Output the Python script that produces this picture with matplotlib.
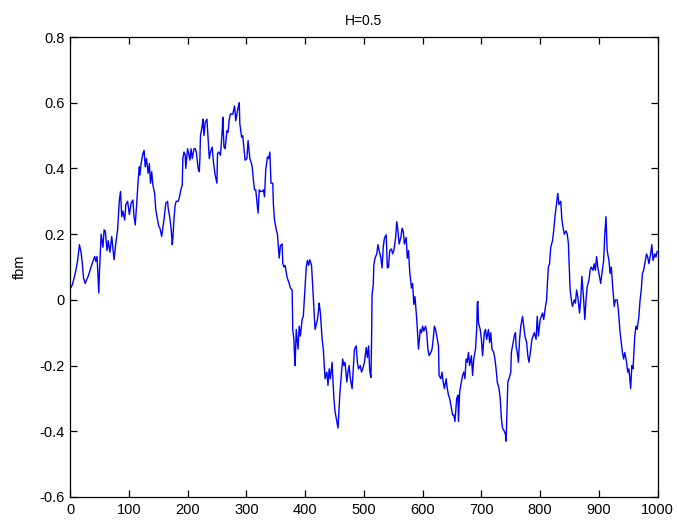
"""Fractional Brownian motion sample path, H=0.5 (MATLAB-style figure)."""

import matplotlib
matplotlib.use("Agg")
import matplotlib.pyplot as plt

LINE_COLOR = "#0000FF"
TITLE = "H=0.5"
Y_LABEL = "fbm"

# sample index / fbm value
samples = [
    1, 4, 7, 10, 13, 16, 19, 21, 23, 26, 28, 31, 34, 37, 40, 42, 44, 46, 49, 50,
    52, 53, 56, 58, 60, 63, 65, 68, 71, 75, 78, 81, 84, 86, 88, 90, 93, 95, 98, 101,
    104, 107, 109, 111, 113, 116, 118, 119, 121, 124, 126, 128, 130, 133, 135, 137, 139, 141, 144, 146,
    149, 151, 153, 156, 158, 160, 163, 166, 167, 170, 172, 174, 175, 177, 179, 181, 184, 186, 188, 191,
    192, 194, 196, 197, 200, 202, 204, 206, 208, 211, 213, 215, 218, 220, 221, 222, 225, 226, 228, 230,
    233, 235, 237, 239, 242, 244, 247, 250, 251, 253, 256, 259, 260, 262, 264, 267, 269, 271, 273, 277,
    280, 282, 286, 288, 289, 292, 294, 296, 298, 301, 303, 306, 308, 310, 312, 314, 316, 319, 320, 322,
    324, 327, 329, 331, 333, 336, 338, 340, 342, 345, 346, 348, 351, 353, 355, 356, 358, 361, 362, 364,
    366, 369, 371, 373, 375, 378, 379, 381, 382, 383, 385, 388, 390, 392, 395, 397, 399, 402, 404, 406,
    408, 411, 413, 415, 417, 421, 423, 424, 426, 429, 431, 432, 434, 437, 439, 441, 443, 446, 447, 449,
    451, 454, 456, 457, 459, 462, 464, 466, 468, 471, 473, 475, 477, 480, 482, 484, 487, 489, 491, 494,
    496, 498, 501, 504, 506, 508, 510, 512, 513, 514, 515, 516, 517, 519, 522, 524, 526, 529, 531, 533,
    535, 538, 540, 542, 544, 547, 549, 551, 554, 556, 558, 560, 563, 565, 567, 569, 572, 574, 576, 578,
    581, 583, 585, 587, 590, 592, 593, 596, 598, 600, 602, 605, 607, 609, 611, 614, 616, 618, 620, 622,
    624, 627, 628, 631, 633, 635, 637, 640, 642, 644, 646, 649, 651, 653, 655, 658, 660, 661, 663, 665,
    668, 670, 672, 674, 676, 678, 680, 683, 685, 687, 690, 692, 693, 694, 695, 698, 700, 702, 705, 707,
    709, 712, 714, 716, 718, 721, 723, 725, 727, 730, 732, 734, 736, 739, 741, 742, 744, 745, 747, 750,
    751, 753, 756, 758, 759, 761, 763, 765, 767, 770, 772, 774, 777, 779, 781, 784, 786, 788, 790, 793,
    795, 797, 800, 802, 804, 806, 809, 811, 812, 814, 816, 818, 821, 823, 825, 828, 830, 832, 835, 837,
    839, 841, 844, 846, 848, 849, 851, 853, 855, 858, 860, 862, 864, 867, 869, 871, 874, 876, 878, 880,
    883, 885, 887, 890, 892, 894, 896, 898, 901, 903, 905, 908, 910, 912, 914, 917, 919, 921, 923, 926,
    928, 931, 933, 936, 938, 940, 942, 944, 947, 949, 951, 954, 956, 958, 961, 963, 965, 968, 970, 972,
    974, 976, 979, 981, 983, 985, 988, 990, 992, 995, 997, 999,
]
fbm = [
    0.036, 0.046, 0.067, 0.09, 0.12, 0.168, 0.143, 0.11, 0.067, 0.05, 0.06, 0.072, 0.09, 0.107, 0.122, 0.132, 0.117, 0.132, 0.021, 0.08,
    0.163, 0.2, 0.16, 0.213, 0.21, 0.15, 0.18, 0.145, 0.193, 0.122, 0.173, 0.213, 0.304, 0.33, 0.253, 0.27, 0.243, 0.29, 0.3, 0.26,
    0.294, 0.304, 0.253, 0.228, 0.28, 0.365, 0.405, 0.38, 0.415, 0.445, 0.455, 0.405, 0.43, 0.385, 0.415, 0.355, 0.39, 0.35, 0.324, 0.274,
    0.243, 0.225, 0.218, 0.193, 0.22, 0.245, 0.294, 0.3, 0.28, 0.248, 0.218, 0.168, 0.188, 0.248, 0.29, 0.3, 0.3, 0.31, 0.33, 0.35,
    0.43, 0.45, 0.44, 0.4, 0.46, 0.445, 0.425, 0.46, 0.43, 0.46, 0.46, 0.45, 0.4, 0.39, 0.43, 0.5, 0.53, 0.55, 0.5, 0.54,
    0.55, 0.49, 0.43, 0.45, 0.465, 0.42, 0.38, 0.355, 0.445, 0.45, 0.44, 0.515, 0.556, 0.465, 0.46, 0.515, 0.51, 0.55, 0.566, 0.565,
    0.59, 0.545, 0.586, 0.6, 0.536, 0.495, 0.5, 0.46, 0.425, 0.43, 0.485, 0.43, 0.42, 0.405, 0.365, 0.335, 0.335, 0.284, 0.264, 0.335,
    0.33, 0.33, 0.335, 0.314, 0.395, 0.435, 0.43, 0.45, 0.355, 0.355, 0.294, 0.243, 0.213, 0.2, 0.152, 0.127, 0.165, 0.17, 0.112, 0.1,
    0.105, 0.072, 0.06, 0.05, 0.036, 0.03, -0.09, -0.12, -0.17, -0.2, -0.09, -0.15, -0.08, -0.11, -0.06, -0.05, 0.01, 0.1, 0.12, 0.105,
    0.122, 0.105, 0.04, -0.02, -0.09, -0.06, -0.03, -0.01, -0.04, -0.12, -0.15, -0.18, -0.24, -0.22, -0.26, -0.21, -0.24, -0.19, -0.23, -0.3,
    -0.34, -0.37, -0.39, -0.36, -0.29, -0.22, -0.18, -0.2, -0.19, -0.25, -0.22, -0.2, -0.24, -0.27, -0.21, -0.15, -0.14, -0.19, -0.21, -0.2,
    -0.22, -0.21, -0.19, -0.145, -0.175, -0.14, -0.216, -0.236, -0.14, 0.016, 0.03, 0.046, 0.107, 0.127, 0.14, 0.168, 0.15, 0.127, 0.097, 0.16,
    0.188, 0.198, 0.097, 0.1, 0.15, 0.155, 0.14, 0.15, 0.188, 0.238, 0.21, 0.17, 0.19, 0.218, 0.21, 0.17, 0.19, 0.127, 0.15, 0.087,
    0.036, 0.05, -0.014, 0.01, -0.06, -0.12, -0.15, -0.09, -0.1, -0.08, -0.095, -0.08, -0.1, -0.15, -0.17, -0.16, -0.15, -0.12, -0.08, -0.09,
    -0.11, -0.14, -0.23, -0.24, -0.22, -0.25, -0.27, -0.24, -0.27, -0.29, -0.3, -0.33, -0.35, -0.35, -0.37, -0.3, -0.29, -0.37, -0.28, -0.26,
    -0.23, -0.22, -0.24, -0.18, -0.19, -0.16, -0.2, -0.17, -0.23, -0.18, -0.15, -0.09, -0.01, -0.005, -0.07, -0.09, -0.12, -0.17, -0.1, -0.09,
    -0.12, -0.09, -0.13, -0.1, -0.15, -0.16, -0.18, -0.21, -0.25, -0.27, -0.3, -0.36, -0.39, -0.4, -0.41, -0.43, -0.31, -0.25, -0.24, -0.22,
    -0.16, -0.14, -0.11, -0.1, -0.14, -0.16, -0.19, -0.12, -0.08, -0.05, -0.08, -0.11, -0.13, -0.17, -0.19, -0.15, -0.12, -0.11, -0.1, -0.12,
    -0.05, -0.11, -0.06, -0.05, -0.04, -0.06, -0.02, 0.0, 0.04, 0.1, 0.11, 0.16, 0.18, 0.21, 0.25, 0.294, 0.324, 0.29, 0.3, 0.243,
    0.22, 0.2, 0.21, 0.2, 0.173, 0.122, 0.03, 0.0, -0.02, 0.0, -0.01, 0.03, 0.01, -0.04, 0.0, 0.072, 0.0, -0.06, 0.0, 0.04,
    0.06, 0.09, 0.1, 0.09, 0.11, 0.09, 0.132, 0.1, 0.07, 0.05, 0.08, 0.12, 0.2, 0.253, 0.15, 0.12, 0.08, 0.1, 0.05, -0.02,
    0.0, 0.0, -0.03, -0.1, -0.13, -0.16, -0.18, -0.16, -0.19, -0.22, -0.21, -0.27, -0.2, -0.21, -0.11, -0.08, -0.09, -0.05, 0.0, 0.03,
    0.08, 0.09, 0.12, 0.14, 0.13, 0.11, 0.14, 0.168, 0.12, 0.14, 0.13, 0.147,
]

x_ticks = list(range(0, 1001, 100))
y_ticks = [-0.6, -0.4, -0.2, 0, 0.2, 0.4, 0.6, 0.8]
y_tick_labels = ["-0.6", "-0.4", "-0.2", "0", "0.2", "0.4", "0.6", "0.8"]

plt.rcParams["font.family"] = ["Liberation Sans", "DejaVu Sans"]

fig = plt.figure(figsize=(6.77, 5.22), dpi=100)
fig.patch.set_facecolor("white")
ax = fig.add_axes([0.1034, 0.0479, 0.8681, 0.8812])

ax.plot(samples, fbm, color=LINE_COLOR, linewidth=1.0)

ax.set_xlim(0, 1000)
ax.set_ylim(-0.6, 0.8)
ax.set_xticks(x_ticks)
ax.set_xticklabels([str(t) for t in x_ticks])
ax.set_yticks(y_ticks)
ax.set_yticklabels(y_tick_labels)
ax.tick_params(direction="in", length=5, width=0.9, labelsize=10.5, top=True, right=True,
               labeltop=False, labelright=False, pad=4)
for spine in ax.spines.values():
    spine.set_linewidth(0.9)

ax.set_title(TITLE, fontsize=10, pad=9)
ax.set_ylabel(Y_LABEL, fontsize=10.5, labelpad=9)

fig.savefig("out.png", dpi=100, facecolor="white")
